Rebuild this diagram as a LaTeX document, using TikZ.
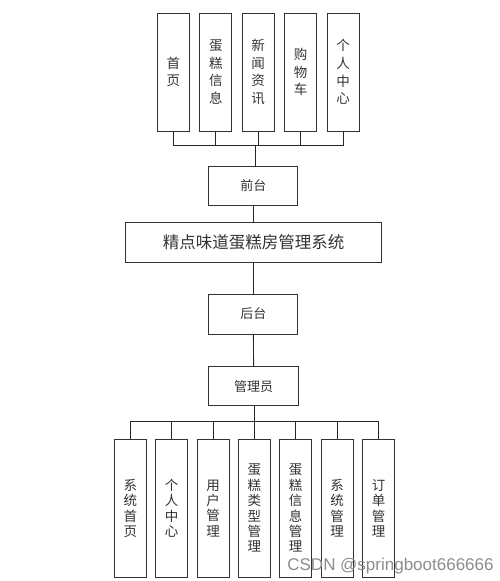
\documentclass[tikz,border=0pt]{standalone}
\usepackage{fontspec}
\newfontfamily\cjk{Noto Sans CJK SC}
\newfontfamily\wmfont{Liberation Sans}
\begin{document}
\begin{tikzpicture}[x=1pt,y=-1pt,
  box/.style={draw=black!80, line width=1pt, inner sep=0pt, text=black!80, align=center, font=\cjk\fontsize{13}{17.5}\selectfont},
  vbox/.style={box, minimum width=32pt, text width=15pt},
  topbox/.style={vbox, minimum height=118pt, font=\cjk\fontsize{13.5}{17.6}\selectfont},
  botbox/.style={vbox, minimum height=138pt, font=\cjk\fontsize{13.5}{15.4}\selectfont},
  hbox/.style={box, minimum width=89pt, minimum height=39pt},
  link/.style={draw=black!85, line width=0.9pt}]
\useasboundingbox (0,0) rectangle (500,581);
% top boxes
\node[topbox] (t1) at (173.3,72) {首\\页};
\node[topbox] (t2) at (215.9,72) {蛋\\糕\\信\\息};
\node[topbox] (t3) at (258.2,72) {新\\闻\\资\\讯};
\node[topbox] (t4) at (300.5,72) {购\\物\\车};
\node[topbox] (t5) at (343,72) {个\\人\\中\\心};
\coordinate (tb) at (255,145.7);
\foreach \i in {1,...,5} \draw[link] (t\i.south) |- (tb);
% middle chain
\node[hbox] (front) at (253.3,185.7) {前台};
\node[box, minimum width=256pt, minimum height=40pt, font=\cjk\fontsize{16.5}{19}\selectfont, text width=250pt] (main) at (253.5,242) {精点味道蛋糕房管理系统};
\node[hbox, minimum height=40pt] (back) at (253.3,314) {后台};
\node[hbox, minimum width=90pt] (admin) at (253.7,386.3) {管理员};
\draw[link] (tb) -- (tb |- front.north);
\draw[link] (front) -- (front |- main.north);
\draw[link] (main.south -| back) -- (back.north);
\draw[link] (back) -- (admin);
% bottom boxes
\coordinate (bb) at (254,421);
\node[botbox] (b1) at (130.3,508.3) {系\\统\\首\\页};
\node[botbox] (b2) at (171.5,508.3) {个\\人\\中\\心};
\node[botbox] (b3) at (213,508.3) {用\\户\\管\\理};
\node[botbox] (b4) at (254.3,508.3) {蛋\\糕\\类\\型\\管\\理};
\node[botbox] (b5) at (295.7,508.3) {蛋\\糕\\信\\息\\管\\理};
\node[botbox] (b6) at (337,508.3) {系\\统\\管\\理};
\node[botbox] (b7) at (378.7,508.3) {订\\单\\管\\理};
\draw[link] (admin.south -| bb) -- (bb);
\foreach \i in {1,...,7} \draw[link] (bb) -| (b\i.north);
% watermark
\node[font=\wmfont\fontsize{17}{20}\selectfont, text=black!45, inner sep=0pt] (wm) at (390.5,566) {CSDN @springboot666666};
\end{tikzpicture}
\end{document}
